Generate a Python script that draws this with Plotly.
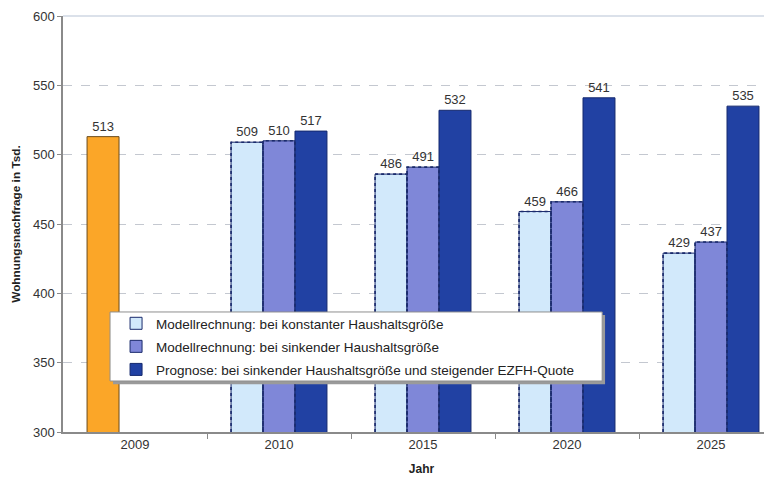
import plotly.graph_objects as go

# ---- data ----
years = ["2009", "2010", "2015", "2020", "2025"]
ist_2009 = [513, None, None, None, None]
konstant = [None, 509, 486, 459, 429]
sinkend = [None, 510, 491, 466, 437]
prognose = [None, 517, 532, 541, 535]
y_ticks = [300, 350, 400, 450, 500, 550, 600]
series_names = [
    "Modellrechnung: bei konstanter Haushaltsgröße",
    "Modellrechnung: bei sinkender Haushaltsgröße",
    "Prognose: bei sinkender Haushaltsgröße und steigender EZFH-Quote",
]

# ---- style ----
FONT = "Arial, Liberation Sans, sans-serif"
C_ORANGE = "#FBA628"
C_LIGHT = "#D2E9FB"
C_MID = "#7F87D8"
C_DARK = "#2141A3"
C_NAVY = "#1A2A6C"
TXT = "#333333"
W = 0.222
BASE = y_ticks[0]

xs = list(range(len(years)))
fig = go.Figure()


def lbl(vals):
    return [("" if v is None else str(v)) for v in vals]


def add_bar(vals, color, line_color, offset, name=None, legend=True, group=None):
    fig.add_trace(go.Bar(
        x=xs, y=vals, width=W, offset=offset,
        marker=dict(color=color, line=dict(color=line_color, width=1)),
        text=lbl(vals), textposition="outside",
        textfont=dict(family=FONT, size=13, color=TXT),
        name=name, showlegend=legend, legendgroup=group,
        hoverinfo="skip", cliponaxis=False,
    ))


add_bar(ist_2009, C_ORANGE, "#6B4B1C", -1.5 * W, legend=False)
add_bar(konstant, C_LIGHT, C_NAVY, -1.5 * W, series_names[0], True, "a")
add_bar(sinkend, C_MID, C_NAVY, -0.5 * W, series_names[1], True, "b")
add_bar(prognose, C_DARK, "#15296E", 0.5 * W, series_names[2], True, "c")

# dotted outlines for the model bars (derived from the data)
for vals, off in [(konstant, -1.5 * W), (sinkend, -0.5 * W)]:
    px, py = [], []
    for x, v in zip(xs, vals):
        if v is None:
            continue
        x0 = x + off
        x1 = x0 + W
        px += [x0, x0, x1, x1, None]
        py += [BASE, v, v, BASE, None]
    fig.add_trace(go.Scatter(
        x=px, y=py, mode="lines",
        line=dict(color=C_NAVY, width=1.6, dash="dot"),
        showlegend=False, hoverinfo="skip",
    ))

boundaries = [x + 0.5 for x in xs]

fig.update_layout(
    width=772, height=482,
    margin=dict(l=55, r=0, t=8, b=58),
    paper_bgcolor="white", plot_bgcolor="white",
    barmode="overlay",
    font=dict(family=FONT, size=12, color=TXT),
    showlegend=True,
    legend=dict(
        x=0.074, y=0.298, xanchor="left", yanchor="top",
        bgcolor="rgba(0,0,0,0)", borderwidth=0,
        font=dict(family=FONT, size=13.5, color="#222222"),
        traceorder="grouped", tracegroupgap=2.5,
        itemwidth=30,
    ),
    xaxis=dict(
        range=[-0.5, 4.479], automargin=False,
        tickmode="array", tickvals=xs, ticktext=years,
        ticks="", showgrid=False, zeroline=False,
        showline=True, linecolor="#8a8a8a", linewidth=1.5,
        tickfont=dict(family=FONT, size=13, color=TXT),
        minor=dict(tickmode="array", tickvals=boundaries, ticks="outside",
                   ticklen=5, tickcolor="#8a8a8a", showgrid=False),
        title=dict(text="<b>Jahr</b>", font=dict(family=FONT, size=12, color="#222222"),
                   standoff=13),
    ),
    yaxis=dict(
        range=[y_ticks[0], y_ticks[-1]], automargin=False,
        tickmode="array", tickvals=y_ticks,
        ticks="outside", ticklen=4, tickcolor="#8a8a8a",
        showgrid=True, gridcolor="#c4c8d0", griddash="dash", gridwidth=1,
        zeroline=False,
        showline=True, linecolor="#8a8a8a", linewidth=1.5,
        tickfont=dict(family=FONT, size=13, color=TXT),
        title=dict(text="<b>Wohnungsnachfrage in Tsd.</b>",
                   font=dict(family=FONT, size=11.8, color="#222222"), standoff=10),
    ),
    shapes=[
        dict(type="line", xref="paper", yref="paper", x0=0, x1=1, y0=1, y1=1,
             line=dict(color="#b8c4d6", width=1.2), layer="below"),
        dict(type="rect", xref="paper", yref="paper",
             x0=0.0698, x1=0.756, y0=0.115, y1=0.281,
             line=dict(width=0), fillcolor="#9a9a9a", layer="above"),
        dict(type="rect", xref="paper", yref="paper",
             x0=0.0656, x1=0.752, y0=0.1226, y1=0.2885,
             line=dict(color="#8f8f8f", width=1), fillcolor="white", layer="above"),
    ],
)

fig.write_html("out.html")
